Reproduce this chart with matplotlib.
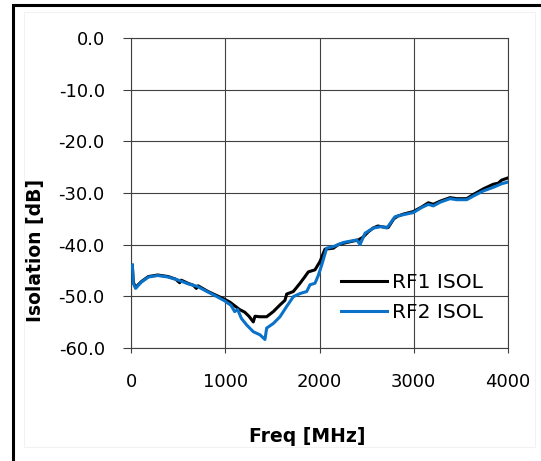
import matplotlib
matplotlib.use("Agg")
import matplotlib.pyplot as plt
from matplotlib.patches import Rectangle
from matplotlib.ticker import FuncFormatter

plt.rcParams['font.family'] = ['DejaVu Sans']

rf1_freq = [10, 20, 45, 105, 180, 280, 390, 470, 513, 530, 600, 660, 690, 710, 814, 920, 990,
            1050, 1100, 1150, 1204, 1250, 1296, 1314, 1367, 1438, 1509, 1580, 1633, 1651, 1722,
            1793, 1846, 1881, 1952, 2005, 2058, 2147, 2200, 2289, 2413, 2460, 2520, 2570, 2620,
            2680, 2730, 2790, 2830, 2891, 2998, 3087, 3157, 3210, 3281, 3388, 3459, 3565, 3635,
            3742, 3848, 3900, 3937, 4000]
rf1_db = [-44.0, -47.3, -48.3, -47.2, -46.2, -45.9, -46.2, -46.7, -47.4, -46.9, -47.5, -47.9, -48.5,
          -48.0, -49.1, -50.0, -50.6, -51.2, -51.9, -52.6, -53.1, -53.9, -55.0, -53.9, -54.0, -54.0,
          -53.0, -51.7, -50.8, -49.6, -49.1, -47.5, -46.2, -45.3, -44.9, -43.3, -40.9, -40.7, -40.0,
          -39.6, -39.1, -38.6, -37.5, -36.8, -36.4, -36.6, -36.7, -35.0, -34.5, -34.1, -33.6, -32.7,
          -31.9, -32.2, -31.6, -30.9, -31.1, -31.1, -30.3, -29.2, -28.3, -28.1, -27.5, -27.1]

rf2_freq = [10, 20, 45, 105, 180, 280, 390, 500, 600, 700, 814, 920, 990, 1060, 1098, 1130, 1169,
            1226, 1296, 1367, 1420, 1438, 1509, 1580, 1651, 1722, 1793, 1864, 1899, 1952, 1987,
            2023, 2076, 2147, 2253, 2396, 2431, 2484, 2572, 2661, 2715, 2740, 2803, 2891, 2998,
            3087, 3157, 3210, 3281, 3388, 3459, 3565, 3635, 3742, 3848, 3937, 4000]
rf2_db = [-44.0, -47.5, -48.5, -47.3, -46.3, -46.0, -46.3, -46.9, -47.6, -48.1, -49.2, -50.2, -50.9,
          -51.8, -53.0, -52.6, -54.3, -55.6, -56.9, -57.5, -58.4, -56.2, -55.3, -54.0, -52.0, -50.1,
          -49.5, -49.1, -47.8, -47.5, -46.0, -44.0, -40.7, -40.4, -39.6, -39.1, -40.0, -37.8, -36.8,
          -36.5, -36.8, -36.2, -34.6, -34.2, -33.8, -32.8, -32.2, -32.5, -31.8, -31.1, -31.3, -31.3,
          -30.6, -29.6, -28.9, -28.2, -27.9]

x_ticks = [0, 1000, 2000, 3000, 4000]
y_ticks = [0, -10, -20, -30, -40, -50, -60]
series_labels = ['RF1 ISOL', 'RF2 ISOL']

W, H = 541, 461
fig = plt.figure(figsize=(W / 100, H / 100), dpi=100)

# outer frame (thick black, right/bottom clipped by image edge)
fig.patches.append(Rectangle((13 / W, -0.1), 1.2, (H - 5) / H + 0.1, transform=fig.transFigure,
                             fill=False, edgecolor='black', linewidth=2.2, zorder=0))
# faint chart-area border
fig.patches.append(Rectangle((24 / W, (H - 447) / H), (535 - 24) / W, (447 - 12) / H,
                             transform=fig.transFigure, fill=False, edgecolor='#f2f2f2',
                             linewidth=0.8, zorder=0))

left, right = 131.4, 507.6
top, bottom = 38.3, 347.7
ax = fig.add_axes([left / W, (H - bottom) / H, (right - left) / W, (bottom - top) / H])

ax.plot(rf1_freq, rf1_db, color='black', linewidth=2.2, label=series_labels[0], zorder=3)
ax.plot(rf2_freq, rf2_db, color='#0a72c8', linewidth=2.2, label=series_labels[1], zorder=4)

ax.set_xlim(0, 4000)
ax.set_ylim(-60, 0)
ax.set_xticks(x_ticks)
ax.set_yticks(y_ticks)
ax.yaxis.set_major_formatter(FuncFormatter(lambda v, p: '%.1f' % v))
ax.xaxis.set_major_formatter(FuncFormatter(lambda v, p: '%d' % v))
ax.grid(True, color='#404040', linewidth=0.8)
ax.set_axisbelow(True)
for s in ax.spines.values():
    s.set_color('#404040')
    s.set_linewidth(0.8)
ax.tick_params(axis='y', length=5.6, width=0.8, color='#404040', pad=13.5, labelsize=13)
ax.tick_params(axis='x', length=3.6, width=0.8, color='#404040', pad=14.5, labelsize=13)

fig.text(307 / W, (H - 441.7) / H, 'Freq [MHz]', ha='center', va='baseline',
         fontsize=13.5, fontweight='bold')
fig.text(35.5 / W, (H - 250.5) / H, 'Isolation [dB]', ha='center', va='center',
         rotation=90, fontsize=13.5, fontweight='bold')

ax.legend(loc='upper left', bbox_to_anchor=(341 / W, (H - 273) / H), bbox_transform=fig.transFigure,
          frameon=False, fontsize=14.5, handlelength=2.3, handletextpad=0.25, borderpad=0,
          borderaxespad=0, labelspacing=0.55)

fig.savefig('out.png', dpi=100)
